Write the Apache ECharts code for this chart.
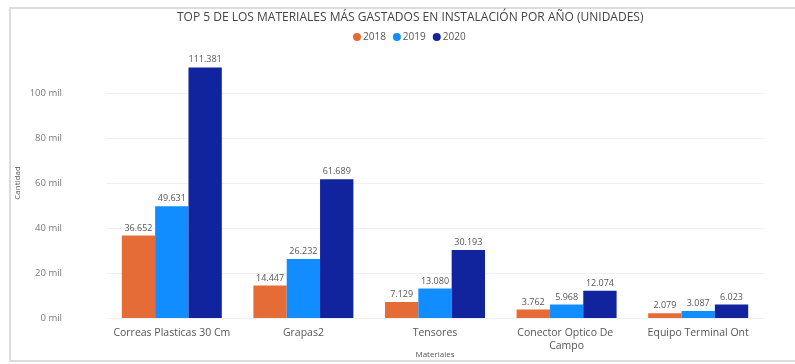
<!DOCTYPE html>
<html>
<head>
<meta charset="utf-8">
<script src="https://cdn.jsdelivr.net/npm/echarts@6/dist/echarts.min.js"></script>
<style>
  html, body { margin: 0; padding: 0; background: #fff; }
  #chart { width: 795px; height: 364px; }
</style>
</head>
<body>
<div id="chart"></div>
<script>
// Materials and yearly quantities (units)
const categories = ['Correas Plasticas 30 Cm', 'Grapas2', 'Tensores', 'Conector Optico De Campo', 'Equipo Terminal Ont'];
const years = ['2018', '2019', '2020'];
const values2018 = [36652, 14447, 7129, 3762, 2079];
const values2019 = [49631, 26232, 13080, 5968, 3087];
const values2020 = [111381, 61689, 30193, 12074, 6023];
const yearColors = ['#E66C37', '#118DFF', '#12239E'];

const FONT = '"Open Sans", "Noto Sans", sans-serif';
const fmtThousands = v => String(v).replace(/\B(?=(\d{3})+(?!\d))/g, '.');

const chart = echarts.init(document.getElementById('chart'), null, { renderer: 'canvas' });

const seriesData = [values2018, values2019, values2020];

chart.setOption({
  animation: false,
  textStyle: { fontFamily: FONT },
  title: {
    text: 'TOP 5 DE LOS MATERIALES MÁS GASTADOS EN INSTALACIÓN POR AÑO (UNIDADES)',
    left: 172,
    top: 7,
    textStyle: { fontSize: 12, fontWeight: 'normal', color: '#444', fontFamily: FONT }
  },
  legend: {
    top: 27,
    left: 348,
    icon: 'circle',
    itemWidth: 8,
    itemHeight: 8,
    itemGap: 7,
    textStyle: { fontSize: 10, color: '#555', padding: [0, 0, 0, -3] },
    data: years
  },
  grid: { left: 106, right: 31, top: 48, bottom: 46, outerBoundsMode: 'none' },
  xAxis: {
    type: 'category',
    data: categories,
    name: 'Materiales',
    nameLocation: 'middle',
    nameGap: 33,
    nameMoveOverlap: false,
    nameTextStyle: { fontSize: 8, color: '#555' },
    axisLine: { show: false },
    axisTick: { show: false },
    axisLabel: {
      fontSize: 10.5,
      color: '#555',
      margin: 9,
      width: 128,
      overflow: 'break',
      lineHeight: 13,
      interval: 0
    }
  },
  yAxis: {
    type: 'value',
    min: 0,
    max: 120000,
    interval: 20000,
    name: 'Cantidad',
    nameLocation: 'middle',
    nameGap: 84,
    nameMoveOverlap: false,
    nameTextStyle: { fontSize: 8, color: '#555' },
    axisLabel: {
      fontSize: 9.5,
      color: '#777',
      margin: 44,
      formatter: v => (v >= 120000 ? '' : (v / 1000) + ' mil')
    },
    splitLine: {
      lineStyle: { color: ['#f0f0f0', '#f0f0f0', '#f0f0f0', '#f0f0f0', '#f0f0f0', '#f0f0f0', 'rgba(0,0,0,0)'], width: 1 }
    }
  },
  series: years.map((y, i) => ({
    name: y,
    type: 'bar',
    data: seriesData[i],
    barGap: '0%',
    barCategoryGap: '24%',
    itemStyle: { color: yearColors[i] },
    label: {
      show: true,
      position: 'top',
      distance: 3,
      fontSize: 9,
      color: '#555',
      formatter: p => fmtThousands(p.value)
    }
  })),
  color: yearColors,
  graphic: [{
    type: 'polyline',
    shape: { points: [[800, 8], [10, 8], [10, 361], [800, 361]] },
    style: { stroke: '#dcdcdc', lineWidth: 2, fill: null },
    silent: true
  }]
});
</script>
</body>
</html>
